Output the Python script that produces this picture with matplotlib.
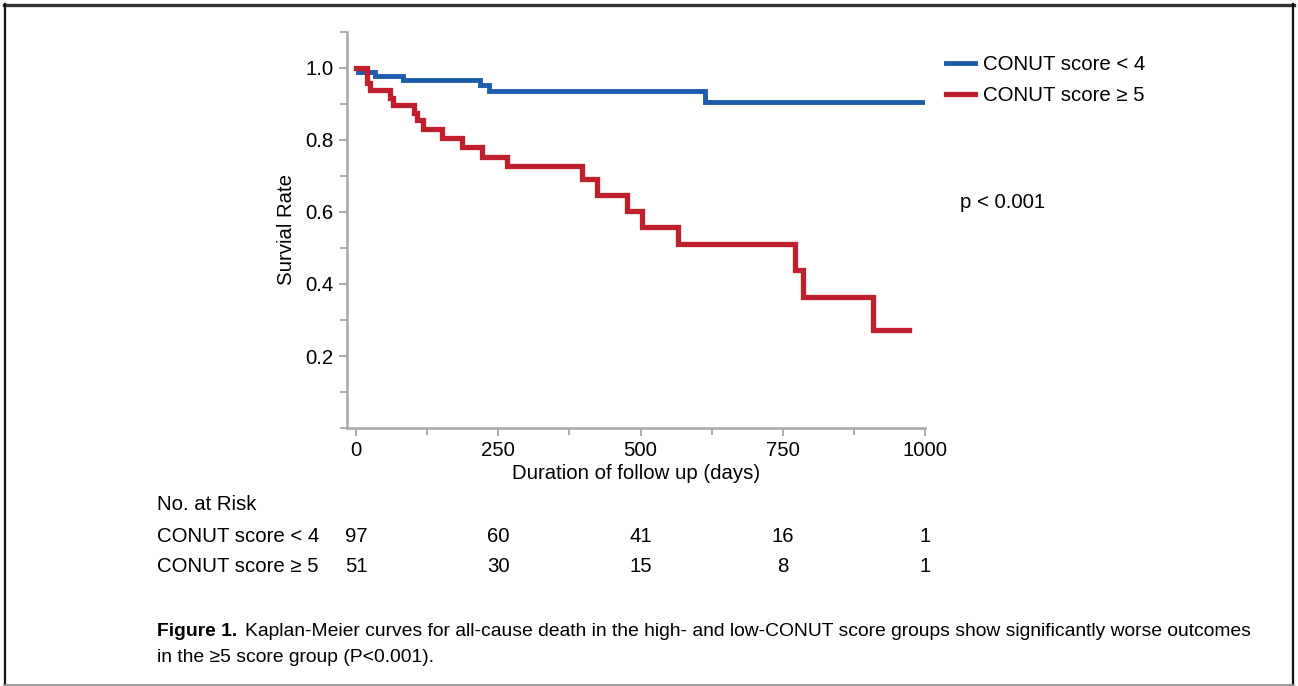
import matplotlib
matplotlib.use("Agg")
import matplotlib.pyplot as plt
import matplotlib.transforms as mtransforms
from matplotlib.lines import Line2D
from matplotlib.ticker import MultipleLocator

plt.rcParams['font.family'] = ['Liberation Sans', 'DejaVu Sans']

# ---- data ----
low_times = [0, 3, 33, 82, 218, 233, 613, 1000]
low_surv = [1.0, 0.990, 0.979, 0.966, 0.952, 0.935, 0.906, 0.906]

high_times = [0, 19, 25, 60, 64, 102, 107, 118, 151, 186, 221, 265, 397, 423,
              476, 502, 565, 771, 785, 909, 971]
high_surv = [1.0, 0.959, 0.938, 0.918, 0.897, 0.876, 0.855, 0.830, 0.805, 0.781,
             0.753, 0.729, 0.692, 0.647, 0.604, 0.558, 0.512, 0.438, 0.364, 0.271, 0.271]

group_labels = ["CONUT score < 4", "CONUT score \u2265 5"]
risk_times = [0, 250, 500, 750, 1000]
risk_low = [97, 60, 41, 16, 1]
risk_high = [51, 30, 15, 8, 1]
x_ticks = [0, 250, 500, 750, 1000]
y_ticks = [0.2, 0.4, 0.6, 0.8, 1.0]

blue = "#1c5cab"
red = "#c01f2d"
gray = "#a6a6a6"
FS = 14.7
CAP_FS = 13.9

W, H = 1298, 686
fig = plt.figure(figsize=(W / 100, H / 100), dpi=100)

ax_l, ax_r, ax_b, ax_t = 347, 925, 428, 32
ax = fig.add_axes([ax_l / W, 1 - ax_b / H, (ax_r - ax_l) / W, (ax_b - ax_t) / H])

ax.step(low_times, low_surv, where='post', color=blue, lw=3.5, label=group_labels[0],
        solid_joinstyle='miter')
ax.step(high_times, high_surv, where='post', color=red, lw=3.8, label=group_labels[1],
        solid_joinstyle='miter')

ax.set_xlim(-16, 1000)
ax.set_ylim(0, 1.1)
ax.set_xticks(x_ticks)
ax.set_yticks(y_ticks)
ax.set_yticklabels([f"{v:.1f}" for v in y_ticks])
ax.xaxis.set_minor_locator(MultipleLocator(125))
ax.yaxis.set_minor_locator(MultipleLocator(0.1))
for s in ['top', 'right']:
    ax.spines[s].set_visible(False)
for s in ['left', 'bottom']:
    ax.spines[s].set_color(gray)
    ax.spines[s].set_linewidth(1.8)
ax.tick_params(which='both', direction='out', length=6, width=1.3, color=gray,
               labelsize=FS, pad=3.5)
ax.tick_params(which='minor', length=5)
ax.set_xlabel("Duration of follow up (days)", fontsize=FS, labelpad=3)
ax.set_ylabel("Survial Rate", fontsize=FS, labelpad=7)

leg = fig.legend(loc='upper left', bbox_to_anchor=(946 / W, 1 - 55 / H), frameon=False,
                 fontsize=FS, handlelength=1.42, handletextpad=0.38, labelspacing=0.58,
                 borderaxespad=0, borderpad=0)

fig.text(960 / W, 1 - 203 / H, "p < 0.001", fontsize=FS, va='center', ha='left')

# number at risk table
trans = mtransforms.blended_transform_factory(ax.transData, fig.transFigure)
fig.text(157 / W, 1 - 504 / H, "No. at Risk", fontsize=FS, va='center', ha='left')
for row_y, lab, vals in [(537, group_labels[0], risk_low), (567, group_labels[1], risk_high)]:
    fig.text(157 / W, 1 - row_y / H, lab, fontsize=FS, va='center', ha='left')
    for t, v in zip(risk_times, vals):
        ax.text(t, 1 - row_y / H, str(v), transform=trans, fontsize=FS,
                va='center', ha='center', clip_on=False)

# caption
fig.text(157 / W, 1 - 632 / H, "Figure 1.", fontsize=CAP_FS, fontweight='bold',
         family=['Liberation Sans Narrow', 'Liberation Sans', 'DejaVu Sans'],
         va='center', ha='left')
fig.text(245 / W, 1 - 632 / H,
         "Kaplan-Meier curves for all-cause death in the high- and low-CONUT score groups show significantly worse outcomes",
         fontsize=CAP_FS, va='center', ha='left')
fig.text(157 / W, 1 - 657 / H, "in the \u22655 score group (P<0.001).",
         fontsize=CAP_FS, va='center', ha='left')

# frame
def fline(x0, y0, x1, y1, **kw):
    fig.add_artist(Line2D([x0 / W, x1 / W], [1 - y0 / H, 1 - y1 / H],
                          transform=fig.transFigure, **kw))

fline(4, 4.5, 1294, 4.5, color="#333333", lw=2.4)
fline(5, 4, 5, 684, color="#111111", lw=1.6)
fline(1293, 4, 1293, 684, color="#111111", lw=1.6)
fline(4, 684.5, 1294, 684.5, color="#8a8a8a", lw=1.2)

fig.savefig("out.png", dpi=100)
